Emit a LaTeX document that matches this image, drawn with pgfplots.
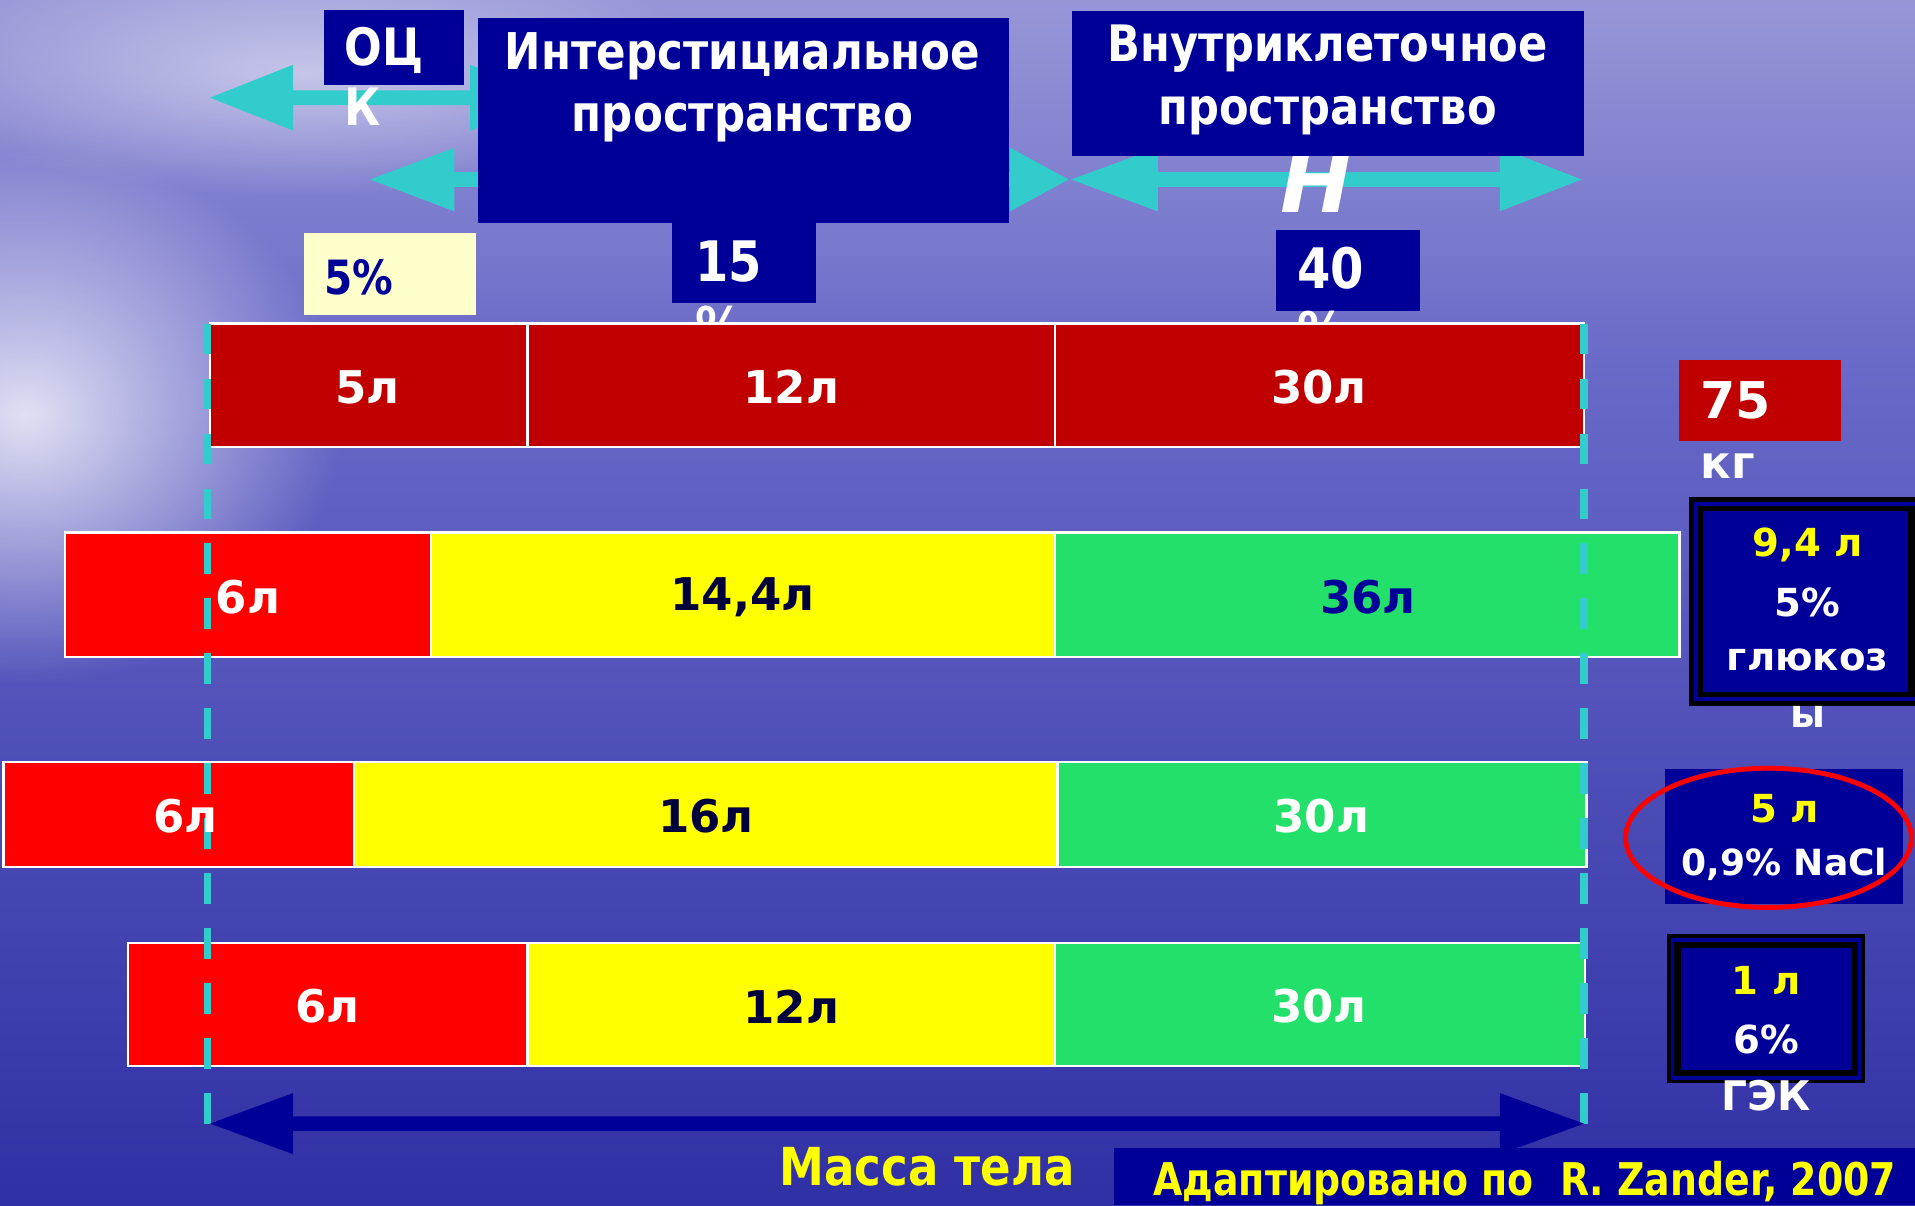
\documentclass[border=0pt]{standalone}
\usepackage{pgfplots}
\pgfplotsset{compat=1.18}
\usepackage{fontspec}
\usetikzlibrary{fadings}
\setmainfont{DejaVu Sans}
\newfontfamily\nar{DejaVu Sans}[FakeStretch=0.86]
\newfontfamily\narr{DejaVu Sans}[FakeStretch=0.84]

\definecolor{navy}{RGB}{0,0,153}
\definecolor{turq}{RGB}{51,204,204}
\definecolor{dred}{RGB}{192,0,0}
\definecolor{brd}{RGB}{255,0,0}
\definecolor{ylw}{RGB}{255,255,0}
\definecolor{grn}{RGB}{34,224,106}
\definecolor{lyel}{RGB}{255,255,204}
\definecolor{dtext}{RGB}{0,0,60}
\definecolor{bgtop}{RGB}{150,150,215}
\definecolor{bgmid}{RGB}{105,105,200}
\definecolor{bgbot}{RGB}{48,48,165}
\tikzfading[name=glow, inner color=transparent!0, outer color=transparent!100]

% one bar segment: colour, x from, x to, y top, y bottom
\newcommand{\seg}[5]{\addplot[fill=#1, draw=white, line width=0.2mm] coordinates {(#2,#4) (#3,#4) (#3,#5) (#2,#5)} -- cycle;}
% double arrow: colour, tip1, base1, base2, tip2, y, head half, shaft half
\newcommand{\dbl}[8]{\fill[#1] (axis cs:#2,#6) -- (axis cs:#3,#6-#7) -- (axis cs:#3,#6-#8) -- (axis cs:#4,#6-#8) -- (axis cs:#4,#6-#7) -- (axis cs:#5,#6) -- (axis cs:#4,#6+#7) -- (axis cs:#4,#6+#8) -- (axis cs:#3,#6+#8) -- (axis cs:#3,#6+#7) -- cycle;}
\newcommand{\fs}[1]{\fontsize{#1}{#1}\selectfont\bfseries}

\begin{document}
\begin{tikzpicture}
\begin{axis}[
width=156.8mm, height=98.7mm, scale only axis,
xmin=0, xmax=1568, ymin=0, ymax=987, y dir=reverse,
hide axis, clip=true]

% background
\shade[top color=bgtop, bottom color=bgmid] (axis cs:0,0) rectangle (axis cs:1568,300);
\shade[top color=bgmid, bottom color=bgbot] (axis cs:0,300) rectangle (axis cs:1568,987);
\fill[white, path fading=glow, opacity=0.8] (axis cs:20,340) ellipse [x radius=26mm, y radius=22mm];
\fill[white, path fading=glow, opacity=0.5] (axis cs:250,60) ellipse [x radius=35mm, y radius=10mm];

% top arrows
\dbl{turq}{172}{240}{385}{450}{80}{27}{6}
\dbl{turq}{303}{372}{827}{875}{147}{26}{6}
\dbl{turq}{877}{948}{1228}{1295}{147}{26}{6}
\node[text=white, font=\fs{20}\itshape, anchor=center] at (axis cs:1078,148) {Н};

% header boxes
\fill[navy] (axis cs:265,8) rectangle (axis cs:380,70);
\node[text=white, font=\nar\fs{12}, anchor=west] at (axis cs:270,41) {ОЦ};
\node[text=white, font=\nar\fs{12}, anchor=west] at (axis cs:270,87) {К};
\fill[navy] (axis cs:391,15) rectangle (axis cs:826,183);
\node[text=white, font=\nar\fs{11.8}] at (axis cs:608,46) {Интерстициальное};
\node[text=white, font=\nar\fs{11.8}] at (axis cs:608,100) {пространство};
\fill[navy] (axis cs:878,9) rectangle (axis cs:1297,128);
\node[text=white, font=\nar\fs{11.7}] at (axis cs:1087,40) {Внутриклеточное};
\node[text=white, font=\nar\fs{11.7}] at (axis cs:1087,95) {пространство};
\fill[navy] (axis cs:550,183) rectangle (axis cs:668,248);
\node[text=white, font=\nar\fs{13}, anchor=west] at (axis cs:557,214) {15};
\node[text=white, font=\nar\fs{13}, anchor=west] at (axis cs:557,268) {\%};
\fill[navy] (axis cs:1045,188) rectangle (axis cs:1163,255);
\node[text=white, font=\nar\fs{13}, anchor=west] at (axis cs:1050,220) {40};
\node[text=white, font=\nar\fs{13}, anchor=west] at (axis cs:1050,272) {\%};
\fill[lyel] (axis cs:249,191) rectangle (axis cs:390,258);
\node[text=navy, font=\nar\fs{11}, anchor=west] at (axis cs:253,227) {5\%};

% bars
\seg{dred}{172}{432}{265}{366}
\seg{dred}{432}{864}{265}{366}
\seg{dred}{864}{1297}{265}{366}
\seg{brd}{53}{353}{436}{538}
\seg{ylw}{353}{864}{436}{538}
\seg{grn}{864}{1375}{436}{538}
\seg{brd}{3}{290}{624}{710}
\seg{ylw}{290}{866}{624}{710}
\seg{grn}{866}{1299}{624}{710}
\seg{brd}{105}{432}{772}{873}
\seg{ylw}{432}{864}{772}{873}
\seg{grn}{864}{1298}{772}{873}

% dashed boundaries
\draw[turq, line width=0.6mm, dash pattern=on 2.5mm off 2mm] (axis cs:170,265) -- (axis cs:170,935);
\draw[turq, line width=0.6mm, dash pattern=on 2.5mm off 2mm] (axis cs:1297,265) -- (axis cs:1297,935);

% bar labels
\node[text=white, font=\fs{10.5}] at (axis cs:301,317) {5л};
\node[text=white, font=\fs{10.5}] at (axis cs:648,317) {12л};
\node[text=white, font=\fs{10.5}] at (axis cs:1080,317) {30л};
\node[text=white, font=\fs{10.5}] at (axis cs:203,489) {6л};
\node[text=dtext, font=\fs{10.5}] at (axis cs:608,489) {14,4л};
\node[text=navy, font=\fs{10.5}] at (axis cs:1120,489) {36л};
\node[text=white, font=\fs{10.5}] at (axis cs:152,668) {6л};
\node[text=dtext, font=\fs{10.5}] at (axis cs:578,668) {16л};
\node[text=white, font=\fs{10.5}] at (axis cs:1082,668) {30л};
\node[text=white, font=\fs{10.5}] at (axis cs:268,824) {6л};
\node[text=dtext, font=\fs{10.5}] at (axis cs:648,824) {12л};
\node[text=white, font=\fs{10.5}] at (axis cs:1080,824) {30л};

% right side boxes
\fill[dred] (axis cs:1375,295) rectangle (axis cs:1507,361);
\node[text=white, font=\fs{11.8}, anchor=west] at (axis cs:1380,328) {75};
\node[text=white, font=\fs{10.5}, anchor=west] at (axis cs:1380,382) {кг};

\fill[black] (axis cs:1383,407) rectangle (axis cs:1580,578);
\fill[navy] (axis cs:1387,411) rectangle (axis cs:1576,574);
\fill[black] (axis cs:1390,414) rectangle (axis cs:1573,571);
\fill[navy] (axis cs:1394,418) rectangle (axis cs:1562,567);
\node[text=ylw, font=\fs{9}] at (axis cs:1480,446) {9,4 л};
\node[text=white, font=\fs{9}] at (axis cs:1480,493) {5\%};
\node[text=white, font=\fs{9}] at (axis cs:1480,540) {глюкоз};
\node[text=white, font=\fs{9}] at (axis cs:1480,587) {ы};

\fill[navy] (axis cs:1363,630) rectangle (axis cs:1558,740);
\node[text=ylw, font=\fs{9}] at (axis cs:1461,662) {5 л};
\node[text=white, font=\fs{8.4}] at (axis cs:1461,708) {0,9\% NaCl};
\draw[red, line width=0.4mm] (axis cs:1448,686) ellipse [x radius=11.7mm, y radius=5.7mm];

\fill[black] (axis cs:1365,765) rectangle (axis cs:1527,887);
\fill[navy] (axis cs:1368,768) rectangle (axis cs:1524,884);
\fill[black] (axis cs:1371,771) rectangle (axis cs:1521,881);
\fill[navy] (axis cs:1376,776) rectangle (axis cs:1516,876);
\node[text=ylw, font=\fs{9}] at (axis cs:1446,803) {1 л};
\node[text=white, font=\fs{9}] at (axis cs:1446,851) {6\%};
\node[text=white, font=\fs{9.5}] at (axis cs:1446,897) {ГЭК};

% body mass arrow
\dbl{navy}{172}{240}{1228}{1297}{920}{25}{6}
\node[text=ylw, font=\nar\fs{12.2}, anchor=west] at (axis cs:626,955) {Масса тела};
\fill[navy] (axis cs:912,940) rectangle (axis cs:1568,987);
\node[text=ylw, font=\narr\fs{10.5}, anchor=west] at (axis cs:932,969) {Адаптировано по\ \ R. Zander, 2007};

\end{axis}
\end{tikzpicture}
\end{document}
